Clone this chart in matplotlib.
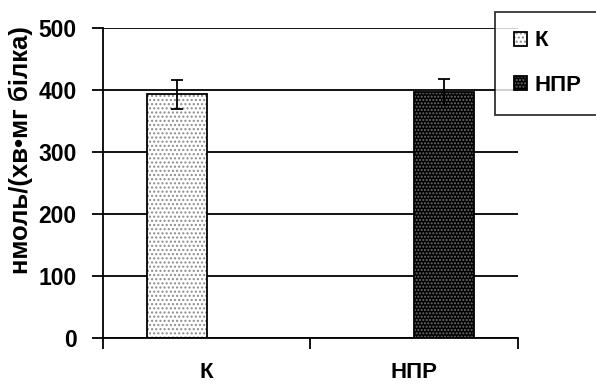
import matplotlib
matplotlib.use("Agg")
import matplotlib.pyplot as plt
from matplotlib.legend_handler import HandlerTuple
import numpy as np

# Data
categories = ["К", "НПР"]
series_names = ["К", "НПР"]
means = [393, 397]
errors = [23, 21]
y_ticks = [0, 100, 200, 300, 400, 500]
y_label = "нмоль/(хв•мг білка)"

plt.rcParams["font.family"] = ["Liberation Sans", "DejaVu Sans"]
plt.rcParams["font.weight"] = "bold"
plt.rcParams["hatch.linewidth"] = 1.0

fig = plt.figure(figsize=(5.96, 3.85), dpi=100)
ax = fig.add_axes([0.1728, 0.1221, 0.6963, 0.8052])

bar_w = 0.289
fills = ["#ffffff", "#000000"]
dots = ["#8c8c8c", "#6e6e6e"]
hatches = ["....", "....."]
offsets = [-bar_w / 2, bar_w / 2]

handles = []
for i, name in enumerate(series_names):
    x = i + offsets[i]
    fill = ax.bar(x, means[i], width=bar_w, color=fills[i], edgecolor=dots[i],
                  hatch=hatches[i], linewidth=0, zorder=2)
    edge = ax.bar(x, means[i], width=bar_w, facecolor="none", edgecolor="black",
                  linewidth=1.3, zorder=3)
    ax.errorbar(x, means[i], yerr=errors[i], fmt="none", ecolor="black",
                elinewidth=1.3, capsize=4.5, capthick=1.3, zorder=4)
    handles.append((fill.patches[0], edge.patches[0]))

ax.set_xlim(-0.5, 1.5)
ax.set_ylim(0, 500)
ax.set_yticks(y_ticks)
ax.set_yticklabels([str(v) for v in y_ticks])

# Category boundaries carry tick marks, labels sit at category centres
ax.set_xticks([-0.5, 0.5, 1.5])
ax.set_xticklabels([])
ax.set_xticks([0, 1], minor=True)
ax.set_xticklabels(categories, minor=True)
ax.tick_params(axis="x", which="minor", length=0, pad=17, labelsize=16)
ax.tick_params(axis="x", which="major", direction="out", length=8, width=1.3)
ax.tick_params(axis="y", direction="out", length=8, width=1.3, pad=11, labelsize=16.5)

ax.yaxis.grid(True, color="black", linewidth=1.3)
ax.set_axisbelow(True)
for s in ("top", "right"):
    ax.spines[s].set_visible(False)
for s in ("left", "bottom"):
    ax.spines[s].set_linewidth(1.3)

ax.set_ylabel(y_label, fontsize=18.5, fontweight="bold")
ax.yaxis.set_label_coords(-0.168, 0.606)

leg = ax.legend(handles, series_names,
                handler_map={tuple: HandlerTuple(ndivide=1, pad=0)},
                loc="upper left", bbox_to_anchor=(0.8305, 0.699, 0.25, 0.271),
                bbox_transform=fig.transFigure, mode="expand", borderaxespad=0,
                frameon=True, fancybox=False, handlelength=0.6,
                handleheight=0.6, handletextpad=0.35, labelspacing=1.05,
                borderpad=0.85, prop={"weight": "bold", "size": 16})
leg.get_frame().set_edgecolor("black")
leg.get_frame().set_linewidth(1.3)

fig.savefig("out.png", dpi=100)
